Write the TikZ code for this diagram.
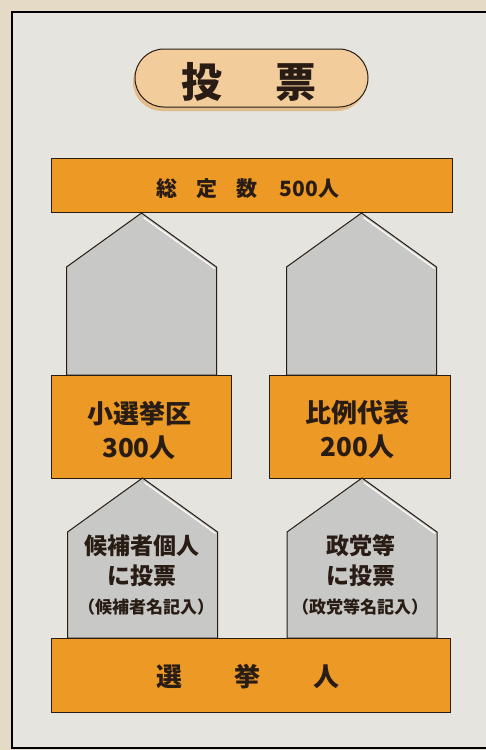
\documentclass[tikz,border=0pt]{standalone}
\usepackage{fontspec}
\newfontfamily\cjk{Noto Sans CJK JP}
\usetikzlibrary{positioning}
\tikzstyle{pixelGrid} = [x = 1pt, y = -1pt]
\definecolor{paperColor}{RGB}{228,218,198}
\definecolor{panelColor}{RGB}{229,228,222}
\definecolor{barColor}{RGB}{237,153,38}
\definecolor{titleColor}{RGB}{242,205,155}
\definecolor{titleShadow}{RGB}{226,188,138}
\definecolor{houseColor}{RGB}{200,200,198}
\definecolor{inkColor}{RGB}{40,28,20}
\tikzstyle{barStyle} = [draw=inkColor, fill=barColor, line width=.8pt, inner sep=0pt, text=inkColor, font=\cjk\bfseries]
\tikzstyle{houseStyle} = [draw=inkColor, fill=houseColor, line width=1pt, line join=miter]
\tikzstyle{houseText} = [align=center, text=inkColor, font=\cjk\bfseries, inner sep=0pt]
\newcommand{\ballotHouse}[3]{
  \filldraw [houseStyle] (#1, #2) -- (#1 + 75, #2 + 54) -- (#1 + 75, #3) -- (#1 - 75, #3) -- (#1 - 75, #2 + 54) -- cycle;
  \draw [white, line width=1.2pt] (#1 + 2, #2 + 4.5) -- (#1 + 73, #2 + 55.5);
}
\begin{document}
\begin{tikzpicture}[pixelGrid]
  \useasboundingbox (0,0) rectangle (486,750);
  \fill [paperColor] (0,0) rectangle (486,750);
  \filldraw [fill=panelColor, draw=black, line width=1.2pt] (12,12) rectangle (520,748);

  % title
  \fill [titleShadow, rounded corners=29pt] (133,53) rectangle (366,111);
  \node [draw=inkColor, line width=1pt, fill=titleColor, rounded corners=29pt, minimum width=233pt, minimum height=58pt, inner sep=0pt] (titleBox) at (251.5,78) {};
  \node [text=inkColor, font=\cjk\bfseries\fontsize{41pt}{44pt}\selectfont, inner sep=0pt] (titleText) at (249,82) {投\hspace{54pt}票};

  % upper houses
  \ballotHouse{141.5}{213}{375}
  \ballotHouse{361.5}{213}{375}

  \node [barStyle, minimum width=401pt, minimum height=54pt] (totalBar) at (251.5,185) {};
  \node [houseText, font=\cjk\bfseries\fontsize{21pt}{24pt}\selectfont] (totalText) at (248,189) {総\hspace{19pt}定\hspace{19pt}数\hspace{22pt}500人};

  \node [barStyle, minimum width=180pt, minimum height=103pt] (districtBox) at (141,426.5) {};
  \node [barStyle, minimum width=181pt, minimum height=103pt] (listBox) at (359.5,426.5) {};
  \node [houseText, font=\cjk\bfseries\fontsize{26pt}{34pt}\selectfont] (districtText) at (139,430) {小選挙区\\300人};
  \node [houseText, font=\cjk\bfseries\fontsize{26pt}{34pt}\selectfont] (listText) at (357.5,430) {比例代表\\200人};

  % lower houses
  \ballotHouse{142.5}{478}{638}
  \ballotHouse{362}{478}{638}
  \node [houseText, font=\cjk\bfseries\fontsize{23pt}{30pt}\selectfont] (candText) at (141.5,561) {候補者個人\\に投票};
  \node [houseText, font=\cjk\bfseries\fontsize{17pt}{20pt}\selectfont] (candNote) at (146,607) {（候補者名記入）};
  \node [houseText, font=\cjk\bfseries\fontsize{23pt}{30pt}\selectfont] (partyText) at (360.5,561) {政党等\\に投票};
  \node [houseText, font=\cjk\bfseries\fontsize{17pt}{20pt}\selectfont] (partyNote) at (360,607) {（政党等名記入）};

  \node [barStyle, minimum width=399pt, minimum height=74pt] (voterBar) at (250.5,675) {};
  \node [houseText, font=\cjk\bfseries\fontsize{26pt}{30pt}\selectfont] (voterText) at (248,677) {選\hspace{53pt}挙\hspace{53pt}人};
\end{tikzpicture}
\end{document}
